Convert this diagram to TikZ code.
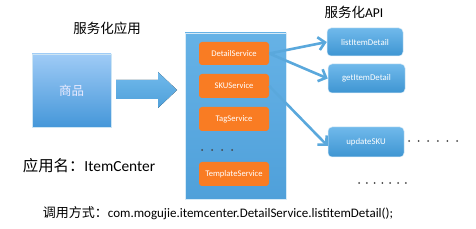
\documentclass[tikz,border=0pt]{standalone}
\usepackage{fontspec}
\setmainfont{Carlito}
\newfontfamily\cjk{Noto Sans CJK SC}
\usetikzlibrary{arrows.meta,calc}
\definecolor{arrowblue}{HTML}{5AA8DC}
\definecolor{contblue}{HTML}{5AAAE0}
\definecolor{orangebox}{HTML}{F97C23}
\definecolor{dotgray}{HTML}{444444}
\definecolor{HTML9FCBF6}{HTML}{9FCBF6}
\definecolor{HTML4597D9}{HTML}{4597D9}
\definecolor{HTML66B2E6}{HTML}{66B2E6}
\definecolor{HTML4FA0DA}{HTML}{4FA0DA}
\definecolor{HTML70B9EB}{HTML}{70B9EB}
\definecolor{HTML3E95D2}{HTML}{3E95D2}
\tikzset{
  goodsbox/.style={rectangle, draw=white!70!arrowblue, line width=0.6pt,
    top color=HTML9FCBF6, bottom color=HTML4597D9, minimum width=79pt, minimum height=73pt,
    text=white!92!blue, font=\cjk\fontsize{12.5}{14}\selectfont},
  container/.style={rectangle, draw=white!75!contblue, line width=0.6pt,
    top color=HTML66B2E6, bottom color=HTML4FA0DA, minimum width=101pt, minimum height=166pt},
  svcbox/.style={rectangle, rounded corners=3pt, fill=orangebox, minimum width=70pt,
    minimum height=24pt, text=white, font=\fontsize{8.6}{10}\selectfont},
  apibox/.style={rectangle, rounded corners=4pt, draw=white!75!arrowblue, line width=0.5pt,
    top color=HTML70B9EB, bottom color=HTML3E95D2, minimum width=76pt, minimum height=29pt,
    text=white, font=\fontsize{8.8}{10}\selectfont},
  apiarrow/.style={draw=arrowblue, line width=2.6pt, -{Straight Barb[length=6.5pt,width=13pt]}},
  title/.style={font=\cjk\fontsize{13.5}{16}\selectfont, text=black},
  dotmark/.style={fill=dotgray, draw=none}
}
\begin{document}
\begin{tikzpicture}[x=1pt,y=-1pt]
\useasboundingbox (0,0) rectangle (476,229);
% titles
\node[title] (t1) at (107,28) {服务化应用};
\node[title] (t2) at (354,12) {\cjk 服务化\fontspec{Carlito}API};
% goods box
\node[goodsbox] (goods) at (71.5,90.5) {商品};
% container
\node[container] (cont) at (235.5,116) {};
% big arrow
\fill[top color=HTML70B9EB, bottom color=HTML4FA0DA]
  (116,80) -- (158,80) -- (158,72) -- (177,90) -- (158,108) -- (158,99) -- (116,99) -- cycle;
% service boxes
\node[svcbox, minimum height=23pt] (detail) at (234,53.5) {DetailService};
\node[svcbox] (sku) at (234,86) {SKUService};
\node[svcbox] (tag) at (234,119) {TagService};
\node[svcbox] (tmpl) at (234,174) {TemplateService};
\foreach \x in {202,212,222,232} \fill[dotmark] (\x,150) circle (1pt);
% api boxes
\node[apibox, minimum height=28pt] (list) at (365,42) {listItemDetail};
\node[apibox, minimum width=77pt] (get) at (366.5,78.5) {getItemDetail};
\node[apibox, minimum height=30pt] (upd) at (366,142) {updateSKU};
% arrows
\draw[apiarrow] (detail.east) -- (list.west);
\draw[apiarrow] (detail.east) -- (get.west);
\draw[apiarrow] (sku.east) -- ($(upd.west)+(0,4)$);
% dots
\foreach \x in {409,418.6,428.2,437.8,447.4,457} \fill[dotmark] (\x,141) circle (1pt);
\foreach \x in {359,366.8,374.6,382.4,390.2,398,405.8} \fill[dotmark] (\x,183) circle (1pt);
% labels
\node[font=\fontsize{15.4}{18}\selectfont] (appname) at (89,166) {{\cjk 应用名：}ItemCenter};
\node[font=\fontsize{13}{15}\selectfont] (call) at (218,213) {{\cjk 调用方式：}com.mogujie.itemcenter.DetailService.listitemDetail();};
\end{tikzpicture}
\end{document}
